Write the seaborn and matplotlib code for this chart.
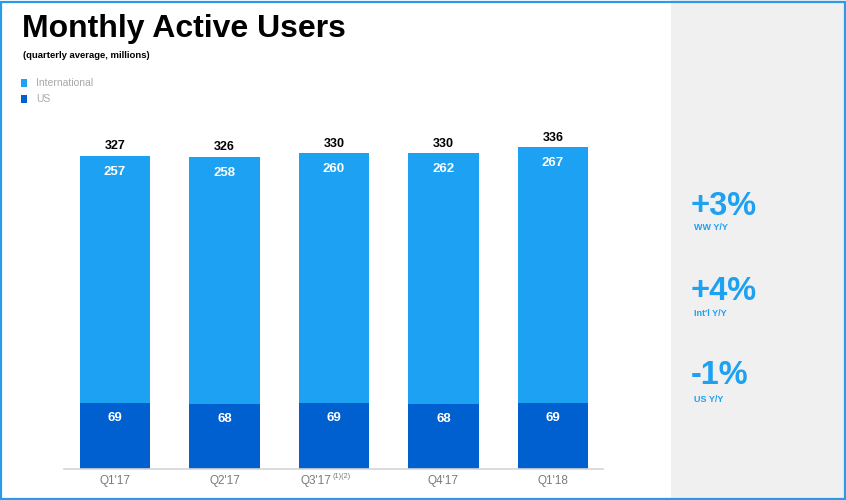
import matplotlib
matplotlib.use("Agg")
import matplotlib.pyplot as plt
import matplotlib.transforms as mtrans
from matplotlib.patches import Rectangle
import seaborn as sns
import pandas as pd

quarters = ["Q1'17", "Q2'17", "Q3'17", "Q4'17", "Q1'18"]
footnote_q3 = "(1)(2)"
international = [257, 258, 260, 262, 267]
us = [69, 68, 69, 68, 69]
totals = [327, 326, 330, 330, 336]
yoy_values = ["+3%", "+4%", "-1%"]
yoy_labels = ["WW Y/Y", "Int'l Y/Y", "US Y/Y"]

INTL_C = "#1DA1F2"
US_C = "#0060D0"

sns.set_theme(style="white")
plt.rcParams['font.family'] = ['Liberation Sans', 'DejaVu Sans']

W, H = 846, 500
fig = plt.figure(figsize=(W / 100, H / 100), dpi=100)
fig.patch.set_facecolor("white")

# right grey panel
fig.patches.append(Rectangle((671 / W, 0), (845 - 671) / W, 1, transform=fig.transFigure,
                             facecolor="#F0F0F0", edgecolor="none", zorder=0))

df = pd.DataFrame({"quarter": quarters, "intl": international, "us": us, "total": totals})

ax_left, ax_right = 64, 603
base_y, top_y = 469, 130
ax = fig.add_axes([ax_left / W, 1 - base_y / H, (ax_right - ax_left) / W, (base_y - top_y) / H])
ax.set_facecolor("none")

sns.barplot(data=df, x="quarter", y="total", color=INTL_C, width=0.64, ax=ax,
            saturation=1, order=quarters, linewidth=0, edgecolor="none")
sns.barplot(data=df, x="quarter", y="us", color=US_C, width=0.64, ax=ax,
            saturation=1, order=quarters, linewidth=0, edgecolor="none")

ax.set_xlim(-0.466, 4.457)
ax.set_ylim(0, 354)
for s in ["top", "right", "left"]:
    ax.spines[s].set_visible(False)
ax.spines["bottom"].set_color("#D5D5D5")
ax.spines["bottom"].set_linewidth(1.2)
ax.set_yticks([])
ax.set_xlabel("")
ax.set_ylabel("")
ax.set_xticks(range(len(quarters)))
ax.set_xticklabels(quarters, color="#7A7A7A", fontsize=8.5)
ax.tick_params(axis="x", length=0, pad=4)

# Q3'17 label sits left of centre in the reference to make room for its footnote
q3_label = ax.get_xticklabels()[2]
q3_label.set_transform(q3_label.get_transform() +
                       mtrans.ScaledTranslation(-0.18, 0, fig.dpi_scale_trans))

# footnote superscript on Q3'17
ax.annotate(footnote_q3, (2, 0), xytext=(-1.0, -5.3), textcoords="offset points",
            ha="left", va="center", fontsize=5.2, color="#7A7A7A", annotation_clip=False)

for i in range(len(quarters)):
    ax.annotate(str(totals[i]), (i, totals[i]), xytext=(0, 2.5), textcoords="offset points",
                ha="center", va="bottom", fontsize=9, fontweight="bold", color="black")
    ax.annotate(str(international[i]), (i, totals[i]), xytext=(0, -11.5), textcoords="offset points",
                ha="center", va="center", fontsize=9.5, fontweight="bold", color="white")
    ax.annotate(str(us[i]), (i, us[i]), xytext=(0, -11), textcoords="offset points",
                ha="center", va="center", fontsize=9.5, fontweight="bold", color="white")

# title and subtitle
fig.text(22 / W, 1 - 37 / H, "Monthly Active Users", fontsize=23, fontweight="bold",
         color="black", ha="left", va="baseline")
fig.text(23 / W, 1 - 55 / H, "(quarterly average, millions)", fontsize=6.8, fontweight="bold",
         color="black", ha="left", va="center")

# legend
for j, (lab, c) in enumerate([("International", INTL_C), ("US", US_C)]):
    yc = 83 + j * 16
    fig.patches.append(Rectangle((21 / W, 1 - (yc + 4) / H), 6 / W, 8 / H, transform=fig.transFigure,
                                 facecolor=c, edgecolor="none"))
    fig.text(36 / W, 1 - yc / H, lab, fontsize=7.5, color="#A8A8A8", ha="left", va="center")

# right-side Y/Y metrics
big_y = [207, 291, 376]
small_y = [228, 314, 400]
for v, l, by, sy in zip(yoy_values, yoy_labels, big_y, small_y):
    fig.text(691 / W, 1 - by / H, v, fontsize=23.5, fontweight="bold", color=INTL_C,
             ha="left", va="center")
    fig.text(694 / W, 1 - sy / H, l, fontsize=6.5, fontweight="bold", color=INTL_C,
             ha="left", va="center")

# outer blue border
fig.patches.append(Rectangle((0.8 / W, 1.5 / H), (W - 2) / W, (H - 3) / H, transform=fig.transFigure,
                             facecolor="none", edgecolor="#2A9BE8", linewidth=1.6, zorder=10))

fig.savefig("out.png", dpi=100, facecolor=fig.get_facecolor())
